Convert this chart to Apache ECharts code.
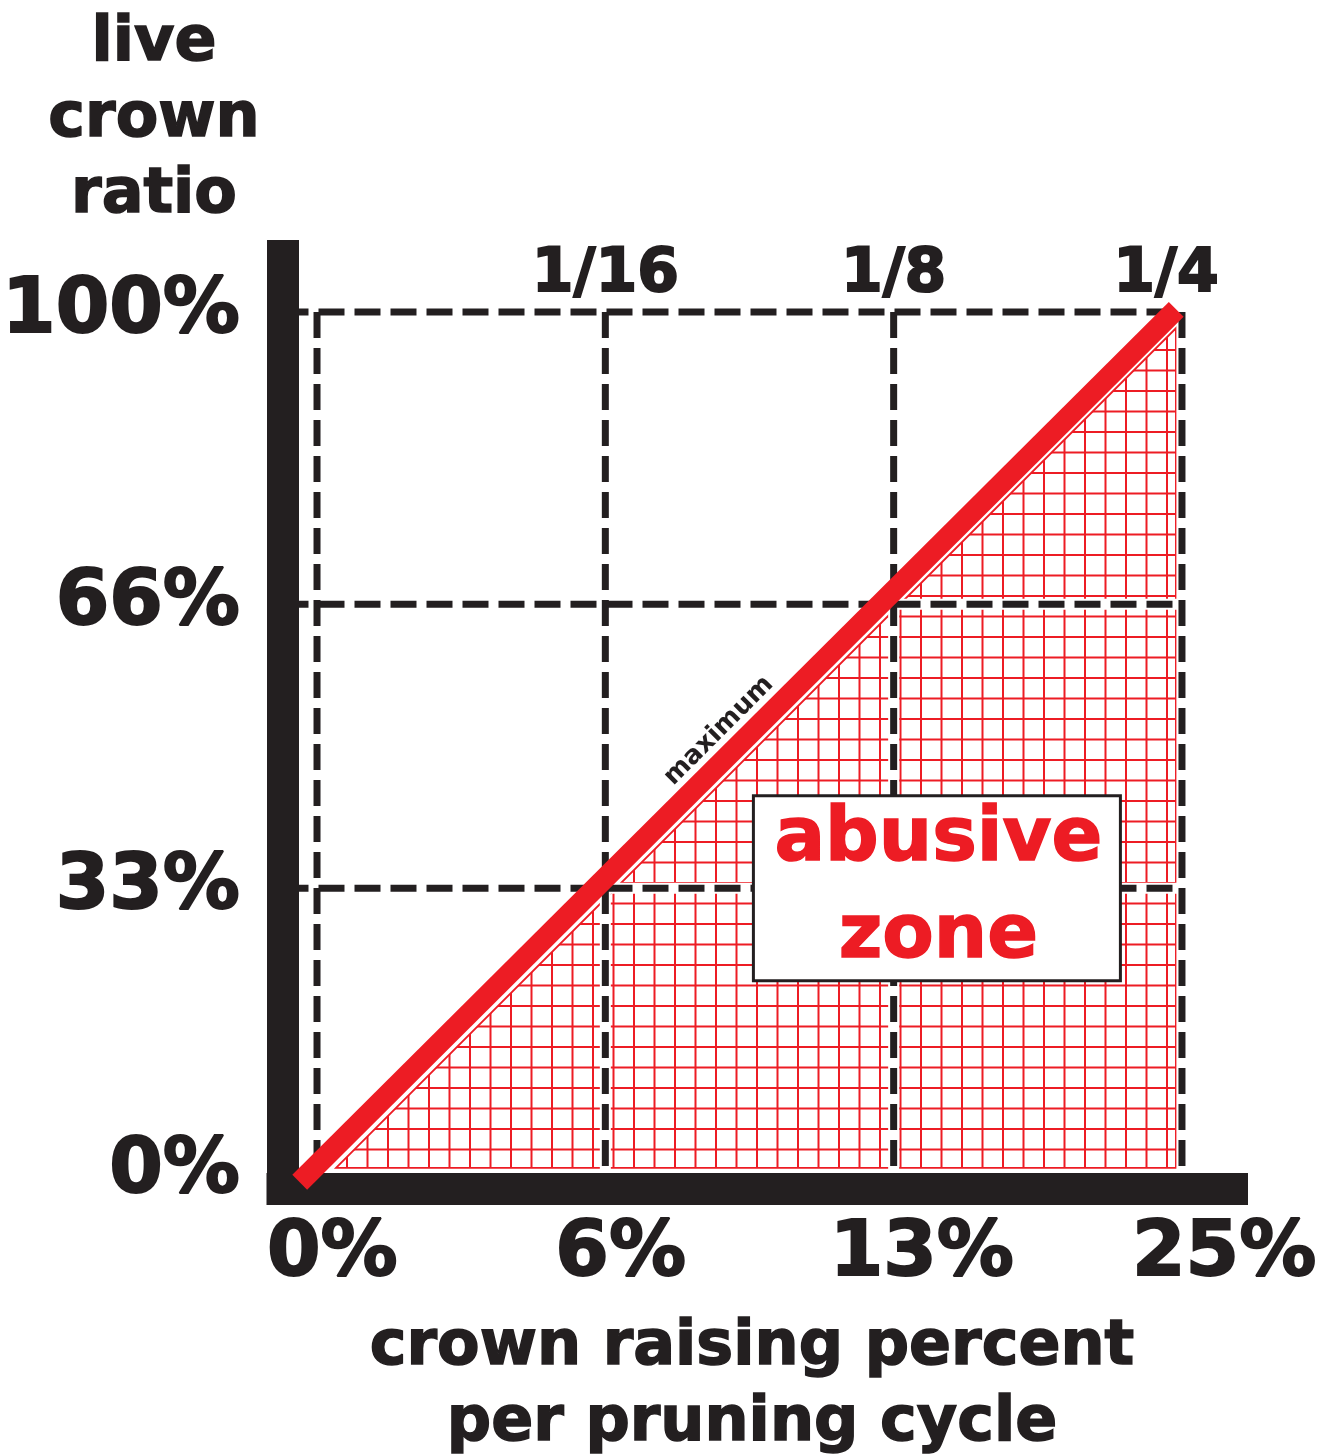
<!DOCTYPE html>
<html>
<head>
<meta charset="utf-8">
<script src="https://cdn.jsdelivr.net/npm/echarts@6/dist/echarts.min.js"></script>
<style>
html,body{margin:0;padding:0;background:#fff;}
#chart{width:1330px;height:1455px;}
</style>
</head>
<body>
<div id="chart"></div>
<script>
// ---- data ----
const xTickPos = [0, 1, 2, 3];                 // schematic positions of 0, 1/16, 1/8, 1/4
const xBottomLabels = ['0%', '6%', '13%', '25%'];
const xTopLabels = ['', '1/16', '1/8', '1/4'];
const yTicks = [0, 33, 66, 100];
const yLabels = ['0%', '33%', '66%', '100%'];
const maxLineX = [-0.06, 2.98];                // "maximum" line end points
const maxLineY = [-1.2, 100.3];
const zoneX = [0.066, 2.979, 2.979];           // abusive zone (hatched triangle)
const zoneY = [0.47, 0.47, 98.1];
const axisMinX = -0.1197, axisMaxX = 3.1735;
const axisMinY = -1.92, axisMaxY = 106.5;
const titleY = 'live\ncrown\nratio';
const titleX = 'crown raising percent\nper pruning cycle';
const maxLabel = 'maximum';
const zoneLabel = ['abusive', 'zone'];
const zoneAnchor = [2.15, 33];
const maxLabelAnchor = [1.394, 51.3];

// ---- style ----
const BLACK = '#231F20';
const RED = '#ED1C24';
const FONT = '"DejaVu Sans", "Liberation Sans", sans-serif';

// hatch pattern
const pat = document.createElement('canvas');
pat.width = 41; pat.height = 41;
(function () {
  const c = pat.getContext('2d');
  c.fillStyle = RED;
  c.fillRect(18, 0, 2, 41);
  c.fillRect(38.5, 0, 2, 41);
  c.fillRect(0, 21, 41, 2);
  c.fillRect(0, 0.5, 41, 2);
})();

const chart = echarts.init(document.getElementById('chart'), null, {renderer: 'canvas'});

const series = [];
// hatched zone
series.push({
  type: 'custom', coordinateSystem: 'cartesian2d', z: 2, silent: true,
  data: [[zoneX[0], zoneY[0]]],
  renderItem: function (params, api) {
    const pts = zoneX.map((x, i) => api.coord([x, zoneY[i]]));
    return {type: 'polygon', shape: {points: pts},
      style: {fill: {image: pat, repeat: 'repeat'}, stroke: RED, lineWidth: 1.8}};
  }
});
// grid dashed lines with white halo
const yTop = yTicks[yTicks.length - 1];
const xRight = xTickPos[xTickPos.length - 1];
const gridLines = [];
xTickPos.forEach(gx => gridLines.push([[gx, yTop], [gx, yTicks[0]]]));
yTicks.slice(1).forEach(gy => gridLines.push([[axisMinX, gy], [xRight, gy]]));
gridLines.forEach(d => {
  series.push({type: 'line', data: d, symbol: 'none', z: 3, silent: true,
    lineStyle: {color: '#fff', width: 11, type: 'solid'}});
});
gridLines.forEach(d => {
  series.push({type: 'line', data: d, symbol: 'none', z: 4, silent: true,
    lineStyle: {color: BLACK, width: 7, type: [26, 10], cap: 'butt'}});
});
// maximum line
series.push({type: 'line', data: maxLineX.map((x, i) => [x, maxLineY[i]]), symbol: 'none', z: 20,
  lineStyle: {color: RED, width: 21, cap: 'butt'}});

const numLabel = {color: BLACK, fontFamily: FONT, fontWeight: 'bold', textBorderColor: BLACK, textBorderWidth: 2};

const option = {
  animation: false,
  backgroundColor: '#ffffff',
  grid: {left: 282.5, top: 256, right: 98, bottom: 266.5, containLabel: false, outerBoundsMode: 'none'},
  xAxis: [
    {type: 'value', min: axisMinX, max: axisMaxX, position: 'bottom', z: 10,
      axisLine: {show: true, onZero: false, lineStyle: {color: BLACK, width: 32, cap: 'square'}},
      axisTick: {show: false}, splitLine: {show: false},
      axisLabel: Object.assign({customValues: xTickPos, margin: 28, align: 'left', padding: [0, 0, 0, -50],
        fontSize: 77,
        formatter: v => {
          const i = xTickPos.indexOf(v);
          return i === 2 ? '{m|' + xBottomLabels[i] + '}' : (xBottomLabels[i] || '');
        },
        rich: {m: Object.assign({fontSize: 77, padding: [0, 0, 0, -14]}, numLabel)}}, numLabel)},
    {type: 'value', min: axisMinX, max: axisMaxX, position: 'top', z: 10,
      axisLine: {show: false}, axisTick: {show: false}, splitLine: {show: false},
      axisLabel: Object.assign({customValues: xTickPos.slice(1), margin: -49, fontSize: 60,
        formatter: v => {
          const i = xTickPos.indexOf(v);
          return i === xTickPos.length - 1 ? '{e|' + xTopLabels[i] + '}' : xTopLabels[i];
        },
        rich: {e: Object.assign({fontSize: 60, padding: [0, 32, 0, 0]}, numLabel)}}, numLabel)}
  ],
  yAxis: {type: 'value', min: axisMinY, max: axisMaxY, z: 10,
    axisLine: {show: true, onZero: false, lineStyle: {color: BLACK, width: 32, cap: 'square'}},
    axisTick: {show: false}, splitLine: {show: false},
    axisLabel: Object.assign({customValues: yTicks, margin: 42.5, fontSize: 77,
      formatter: v => yLabels[yTicks.indexOf(v)] || ''}, numLabel)},
  series: series
};
chart.setOption(option);

const zc = chart.convertToPixel({gridIndex: 0}, zoneAnchor);
const mc = chart.convertToPixel({gridIndex: 0}, maxLabelAnchor);
chart.setOption({
  graphic: [
    {type: 'text', x: 154, y: 6, z: 30, style: {text: titleY, fill: BLACK, font: 'bold 62px ' + FONT,
      stroke: BLACK, lineWidth: 1.5, textAlign: 'center', textVerticalAlign: 'top', lineHeight: 76}},
    {type: 'text', x: 752, y: 1310, z: 30, style: {text: titleX, fill: BLACK, font: 'bold 62px ' + FONT,
      stroke: BLACK, lineWidth: 1.5, textAlign: 'center', textVerticalAlign: 'top', lineHeight: 76}},
    {type: 'text', x: mc[0], y: mc[1], rotation: Math.PI / 4, z: 30,
      style: {text: maxLabel, fill: BLACK, font: 'bold 26px ' + FONT, textAlign: 'center', textVerticalAlign: 'middle'}},
    {type: 'group', x: zc[0], y: zc[1], z: 30, children: [
      {type: 'rect', z: 30, shape: {x: -183.5, y: -92.5, width: 367, height: 185},
        style: {fill: '#fff', stroke: BLACK, lineWidth: 3}},
      {type: 'text', z: 31, x: 1.5, y: -47.5, style: {text: zoneLabel[0], fill: RED, font: 'bold 75px ' + FONT,
        stroke: RED, lineWidth: 1.5, textAlign: 'center', textVerticalAlign: 'middle'}},
      {type: 'text', z: 31, x: 1.5, y: 49.5, style: {text: zoneLabel[1], fill: RED, font: 'bold 75px ' + FONT,
        stroke: RED, lineWidth: 1.5, textAlign: 'center', textVerticalAlign: 'middle'}}
    ]}
  ]
});
</script>
</body>
</html>
